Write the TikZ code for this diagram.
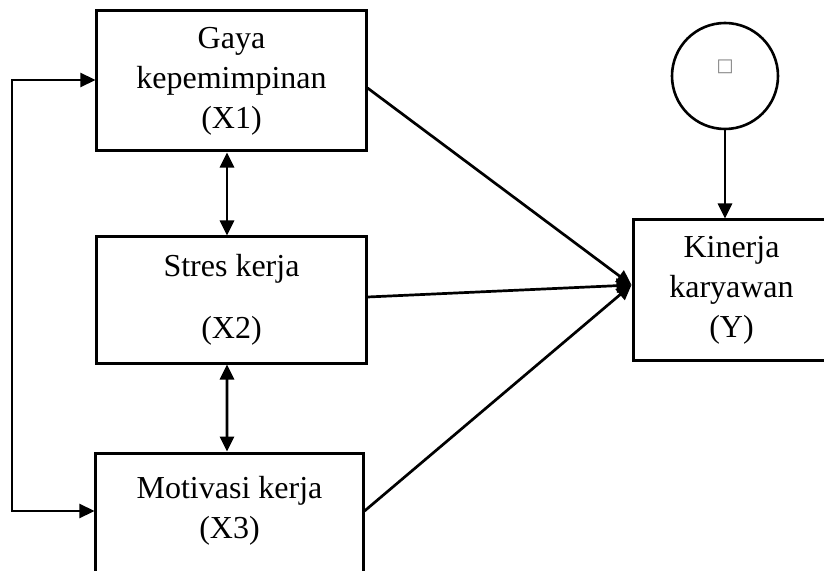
\documentclass[tikz,border=0pt]{standalone}
\usepackage{fontspec}
\setmainfont{Liberation Serif}
\newfontfamily\symfont{DejaVu Sans}
\usetikzlibrary{arrows.meta}
\begin{document}
\begin{tikzpicture}[x=1bp,y=-1bp,
  box/.style={draw, line width=3bp, rectangle, align=center, inner sep=0pt,
    font=\fontsize{32bp}{40bp}\selectfont},
  tipA/.tip={Triangle[length=15bp,width=14bp]},
  conn/.style={line width=2.7bp, -tipA},
  dbl/.style={line width=2.7bp, tipA-tipA},
  fb/.style={line width=2.2bp, tipA-tipA}]
\clip (0,0) rectangle (824,571);
\node[box, minimum width=269bp, minimum height=140bp] (X1) at (231.5,81) {Gaya\\kepemimpinan\\(X1)};
\node[box, minimum width=269bp, minimum height=126bp] (X2) at (231.5,300) {Stres kerja\\[22bp](X2)};
\node[box, minimum width=267bp, minimum height=188bp] (X3) at (229.5,547) {Motivasi kerja\\(X3)\\~\\~};
\node[box, minimum width=197bp, minimum height=140bp] (Y) at (731.5,290) {Kinerja\\karyawan\\(Y)};
\node[draw, circle, line width=2.6bp, minimum size=106bp, inner sep=0pt] (eps) at (725,76) {};
\node[inner sep=0pt, text=gray, font=\symfont\fontsize{18bp}{18bp}\selectfont] (epsglyph) at (725,67) {□};
\coordinate (fbTop) at (12,80);
\coordinate (fbBot) at (12,511);
\draw[fb] (X1.west |- fbTop) -- (fbTop) -- (fbBot) -- (X3.west |- fbBot);
\draw[dbl] ([xshift=-4.5bp]X1.south) -- ([xshift=-4.5bp]X2.north);
\draw[dbl] ([xshift=-4.5bp]X2.south) -- ([xshift=-2.5bp]X3.north);
\coordinate (conv) at ([yshift=5bp]Y.west);
\draw[conn] ([yshift=-7bp]X1.east) -- (conv);
\draw[conn] ([yshift=3bp]X2.east) -- (conv);
\draw[conn] (X3.east |- fbBot) -- (conv);
\draw[conn] (eps.south) -- (eps.south |- Y.north);
\end{tikzpicture}
\end{document}
